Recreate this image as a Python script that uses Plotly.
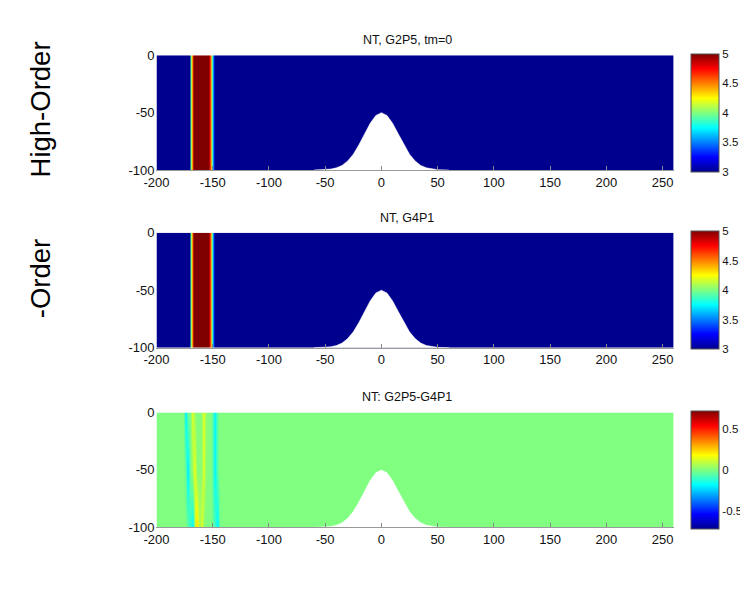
import plotly.graph_objects as go

# ---------------- data ----------------
x_ticks = [-200, -150, -100, -50, 0, 50, 100, 150, 200, 250]
y_ticks = [0, -50, -100]

# density profile across the cold band (panels 1 and 2)
band_x = [-200, -171, -169.5, -167.5, -154, -152, -150, -148, 260]
band_g2p5 = [3, 3, 3.9, 5, 5, 4.5, 3.7, 3, 3]
band_g4p1 = [3, 3, 3.9, 5, 5, 4.5, 3.7, 3, 3]
band_rows_y = [0, -100]

# difference field (panel 3), rows at y = 0, -50, -100
diff_x = [-200, -180, -178, -176, -174, -172, -170, -168, -166, -164, -162, -160,
          -158, -156, -154, -152, -150, -148, -146, -144, -142, -140, 260]
diff_rows_y = [0, -50, -100]
diff_top = [0, 0, 0, 0, -0.22, -0.04, 0.0, 0.15, 0.03, 0.0, 0.0, 0.02,
            0.15, 0.03, 0.0, 0.0, -0.05, -0.2, -0.03, 0, 0, 0, 0]
diff_mid = [0, 0, 0, 0, -0.04, -0.22, 0.0, 0.04, 0.17, 0.02, 0.0, 0.02,
            0.15, 0.02, 0.0, 0.0, -0.05, -0.2, -0.04, 0, 0, 0, 0]
diff_bot = [0, 0, 0, 0, 0, -0.05, -0.12, -0.2, 0.05, 0.25, 0.04, 0.15,
            0.02, 0.0, 0.0, 0.0, -0.03, -0.08, -0.2, -0.02, 0, 0, 0]

# terrain (gaussian hill): height above y=-100
terrain_x = [-60, -50, -45, -40, -35, -30, -25, -20, -15, -10, -5, 0,
             5, 10, 15, 20, 25, 30, 35, 40, 45, 50, 60]
terrain_h = [0, 0.3, 0.8, 1.9, 4.0, 7.9, 13.8, 22.0, 31.5, 40.7, 47.5, 50,
             47.5, 40.7, 31.5, 22.0, 13.8, 7.9, 4.0, 1.9, 0.8, 0.3, 0]

titles = ["NT, G2P5, tm=0", "NT, G4P1", "NT: G2P5-G4P1"]
side_labels = ["High-Order", "-Order"]

# ---------------- layout geometry ----------------
W, H = 740, 570
MARGIN = 8
SX, OX = 0.98, 12.0
SY, OY = 0.978, 6.0
def fx(ref):
    return (ref - OX) / SX - MARGIN
def fy(ref):
    return (ref - OY) / SY - MARGIN
def px(ref):
    return fx(ref) / W
def py(ref):
    return 1 - fy(ref) / H

panels = [(54.3, 169.5), (232.5, 348), (413, 528.5)]
xdom = [px(155), px(671)]

jet = [[0.0, "#00008f"], [0.125, "#0000ff"], [0.375, "#00ffff"],
       [0.625, "#ffff00"], [0.875, "#ff0000"], [1.0, "#800000"]]

FONT = "Liberation Sans, Arial, Helvetica, sans-serif"

fig = go.Figure()

def cbar(panel, vals, txt):
    top, bot = panels[panel]
    return dict(
        x=px(688), xanchor="left", xpad=0,
        y=(py(top) + py(bot)) / 2, yanchor="middle", ypad=0,
        len=fy(bot) - fy(top), lenmode="pixels",
        thickness=28, thicknessmode="pixels",
        outlinewidth=1, outlinecolor="#555555",
        tickvals=vals, ticktext=txt, ticks="", ticklen=0,
        tickfont=dict(family=FONT, size=11.5, color="#111111"),
    )

fig.add_trace(go.Heatmap(
    x=band_x, y=band_rows_y, z=[band_g2p5, band_g2p5],
    colorscale=jet, zmin=3, zmax=5, zsmooth="best",
    xaxis="x", yaxis="y", hoverinfo="skip",
    colorbar=cbar(0, [3, 3.5, 4, 4.5, 5], ["3", "3.5", "4", "4.5", "5"]),
))
fig.add_trace(go.Heatmap(
    x=band_x, y=band_rows_y, z=[band_g4p1, band_g4p1],
    colorscale=jet, zmin=3, zmax=5, zsmooth="best",
    xaxis="x2", yaxis="y2", hoverinfo="skip",
    colorbar=cbar(1, [3, 3.5, 4, 4.5, 5], ["3", "3.5", "4", "4.5", "5"]),
))
fig.add_trace(go.Heatmap(
    x=diff_x, y=diff_rows_y, z=[diff_top, diff_mid, diff_bot],
    colorscale=jet, zmin=-0.72, zmax=0.72, zsmooth="best",
    xaxis="x3", yaxis="y3", hoverinfo="skip",
    colorbar=cbar(2, [-0.5, 0, 0.5], ["-0.5", "0", "0.5"]),
))

# terrain polygons
poly_x = terrain_x + [terrain_x[-1], terrain_x[0]]
poly_y = [-100 + h for h in terrain_h] + [-102, -102]
for i in range(3):
    sfx = "" if i == 0 else str(i + 1)
    fig.add_trace(go.Scatter(
        x=poly_x, y=poly_y, mode="lines", fill="toself",
        fillcolor="white", line=dict(color="white", width=0.5),
        xaxis="x" + sfx, yaxis="y" + sfx, hoverinfo="skip", showlegend=False,
    ))

layout = dict(
    width=W, height=H, margin=dict(l=0, r=0, t=0, b=0),
    paper_bgcolor="white", plot_bgcolor="white", showlegend=False,
    font=dict(family=FONT, size=13, color="#111111"),
)
for i, (top, bot) in enumerate(panels):
    sfx = "" if i == 0 else str(i + 1)
    layout["xaxis" + sfx] = dict(
        domain=xdom, range=[-200, 260], tickvals=x_ticks,
        ticktext=[str(v) for v in x_ticks],
        ticks="inside", ticklen=4, tickcolor="#888888", tickwidth=1,
        showline=True, linecolor="#999999", linewidth=1, mirror=False,
        showgrid=False, zeroline=False, anchor="y" + sfx,
        tickfont=dict(family=FONT, size=13, color="#111111"),
        fixedrange=True,
    )
    layout["yaxis" + sfx] = dict(
        domain=[py(bot), py(top)], range=[-100, 0], tickvals=y_ticks,
        ticktext=[str(v) for v in y_ticks],
        ticks="", showline=False, showgrid=False, zeroline=False,
        anchor="x" + sfx, ticklabelstandoff=1,
        tickfont=dict(family=FONT, size=13, color="#111111"),
        fixedrange=True,
    )

annotations = []
title_y = [38.5, 218, 398]
for t, ty in zip(titles, title_y):
    annotations.append(dict(
        text=t, x=px(405), y=py(ty), xref="paper", yref="paper",
        xanchor="center", yanchor="middle", showarrow=False,
        font=dict(family=FONT, size=12.5, color="#111111"),
    ))
for t, ty in zip(side_labels, [108.5, 279]):
    annotations.append(dict(
        text=t, x=px(39), y=py(ty), xref="paper", yref="paper",
        xanchor="center", yanchor="middle", showarrow=False, textangle=-90,
        font=dict(family=FONT, size=27.5, color="#000000"),
    ))
layout["annotations"] = annotations

fig.update_layout(**layout)
fig.write_html("out.html")
